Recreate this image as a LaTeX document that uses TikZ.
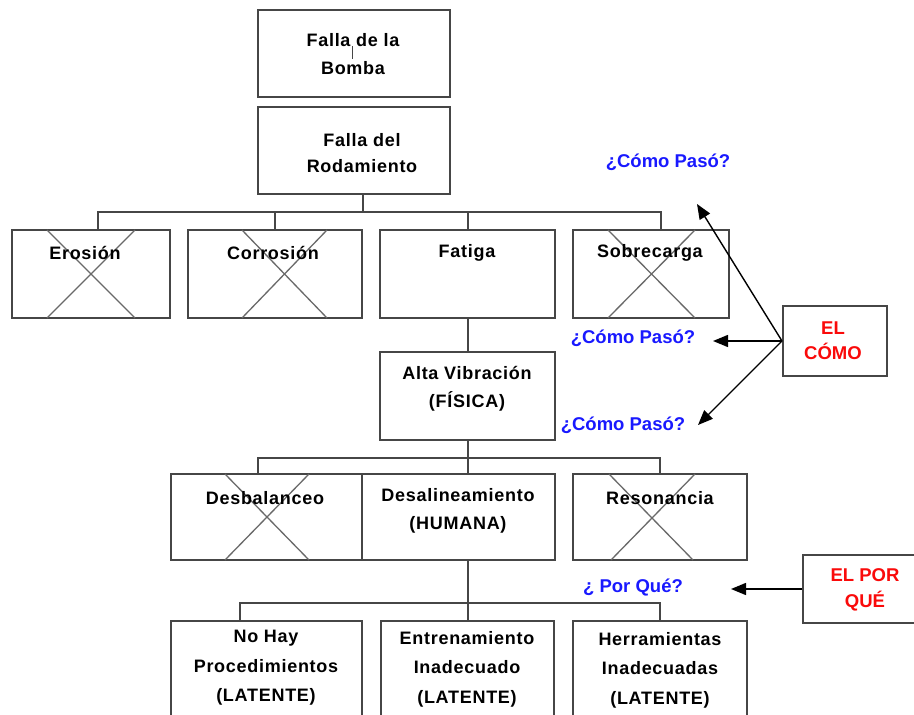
\documentclass[tikz,border=0pt]{standalone}
\usepackage{fontspec}
\setmainfont{Liberation Sans}
\newfontfamily\spaced{Liberation Sans}[LetterSpace=4]
\usetikzlibrary{arrows.meta}
\definecolor{qblue}{RGB}{25,25,255}
\definecolor{qred}{RGB}{250,10,10}
\definecolor{edgec}{RGB}{70,70,70}
\definecolor{crossc}{RGB}{105,105,105}
\begin{document}
\begin{tikzpicture}[x=1pt,y=-1pt,
  box/.style={draw=edgec,line width=2pt,fill=white,inner sep=0pt},
  txt/.style={font=\spaced\bfseries\fontsize{18}{28}\selectfont,align=center,inner sep=0pt},
  qtxt/.style={font=\bfseries\fontsize{18.5}{28}\selectfont,text=qblue,inner sep=0pt},
  rtxt/.style={font=\bfseries\fontsize{18.5}{25}\selectfont,text=qred,align=center,inner sep=0pt},
  conn/.style={draw=edgec,line width=2pt},
  crossl/.style={draw=crossc,line width=1.3pt},
  arr/.style={draw=black,line width=1.4pt,-{Triangle[length=15pt,width=12pt]}}]
\useasboundingbox (0,0) rectangle (914,715);
\clip (0,0) rectangle (914,715);
\fill[white] (0,0) rectangle (914,715);

% boxes
\node[box,minimum width=192pt,minimum height=87pt] (fb) at (354,53.5) {};
\node[box,minimum width=192pt,minimum height=87pt] (fr) at (354,150.5) {};
\node[box,minimum width=158pt,minimum height=88pt] (ero) at (91,274) {};
\node[box,minimum width=174pt,minimum height=88pt] (cor) at (275,274) {};
\node[box,minimum width=175pt,minimum height=88pt] (fat) at (467.5,274) {};
\node[box,minimum width=156pt,minimum height=88pt] (sob) at (651,274) {};
\node[box,minimum width=175pt,minimum height=88pt] (alt) at (467.5,396) {};
\node[box,minimum width=191pt,minimum height=86pt] (des) at (266.5,517) {};
\node[box,minimum width=193pt,minimum height=86pt] (dea) at (458.5,517) {};
\node[box,minimum width=174pt,minimum height=86pt] (res) at (660,517) {};
\node[box,minimum width=191pt,minimum height=139pt] (noh) at (266.5,690.5) {};
\node[box,minimum width=173pt,minimum height=139pt] (ent) at (467.5,690.5) {};
\node[box,minimum width=174pt,minimum height=139pt] (her) at (660,690.5) {};
\node[box,minimum width=104pt,minimum height=70pt] (como) at (835,341) {};
\node[box,minimum width=124pt,minimum height=68pt] (porq) at (865,589) {};

% crosses
\draw[crossl] (47,230) -- (135,318) (135,230) -- (47,318);
\draw[crossl] (242,230) -- (327,318) (327,230) -- (242,318);
\draw[crossl] (608,230) -- (695,318) (695,230) -- (608,318);
\draw[crossl] (225,474) -- (309,560) (309,474) -- (225,560);
\draw[crossl] (609,474) -- (693,560) (695,474) -- (611,560);

% texts
\node[txt] (tfb) at (353,54) {Falla de la\\Bomba};
\draw[draw=edgec,line width=1pt] (352,46) -- (352,59);
\node[txt,font=\spaced\bfseries\fontsize{18}{26}\selectfont] (tfr) at (362,153) {Falla del\\Rodamiento};
\node[txt] (tero) at (85,253) {Erosión};
\node[txt] (tcor) at (273,253) {Corrosión};
\node[txt] (tfat) at (467,253) {Fatiga};
\node[txt] (tsob) at (650,253) {Sobrecarga};
\node[txt] (talt) at (467,389) {Alta Vibración\\(FÍSICA)};
\node[txt] (tdes) at (265,498) {Desbalanceo};
\node[txt] (tdea) at (458,511) {Desalineamiento\\(HUMANA)};
\node[txt] (tres) at (660,498) {Resonancia};
\node[txt,font=\spaced\bfseries\fontsize{18}{29.5}\selectfont] (tnoh) at (266,668) {No Hay\\Procedimientos\\(LATENTE)};
\node[txt,font=\spaced\bfseries\fontsize{18}{29.5}\selectfont] (tent) at (467,669) {Entrenamiento\\Inadecuado\\(LATENTE)};
\node[txt,font=\spaced\bfseries\fontsize{18}{29.5}\selectfont] (ther) at (660,670) {Herramientas\\Inadecuadas\\(LATENTE)};
\node[rtxt] (tcomo) at (833,341) {EL\\CÓMO};
\node[rtxt,font=\bfseries\fontsize{18.5}{26}\selectfont] (tporq) at (865,590) {EL POR\\QUÉ};

% blue questions
\node[qtxt] (q1) at (668,162) {¿Cómo Pasó?};
\node[qtxt] (q2) at (633,338) {¿Cómo Pasó?};
\node[qtxt] (q3) at (623,425) {¿Cómo Pasó?};
\node[qtxt] (q4) at (633,588) {¿ Por Qué?};

% connectors
\coordinate (j1) at (363,212);
\draw[conn] ([xshift=9pt]fr.south) -- (j1);
\draw[conn] ([xshift=7pt]ero.north) |- (j1) -| ([xshift=10pt]sob.north);
\draw[conn] (cor.north) -- (cor.north |- j1);
\draw[conn] (fat.north) -- (fat.north |- j1);
\draw[conn] (fat.south) -- (alt.north);
\coordinate (j2) at (468,458);
\draw[conn] (alt.south) -- (alt.south |- dea.north);
\draw[conn] ([xshift=-8.5pt]des.north) |- (j2) -| (res.north);
\coordinate (j3) at (468,603);
\draw[conn] (ent.north |- dea.south) -- (ent.north);
\draw[conn] ([xshift=-26.5pt]noh.north) |- (j3) -| (her.north);

% arrows
\coordinate (a1) at (697,204);
\coordinate (a2) at (713,341);
\coordinate (a3) at (698,425);
\coordinate (a4) at (731,589);
\draw[arr] (como.west) -- (a1);
\draw[arr] (como.west) -- (a2);
\draw[arr] (como.west) -- (a3);
\draw[arr] (porq.west) -- (a4);
\end{tikzpicture}
\end{document}
